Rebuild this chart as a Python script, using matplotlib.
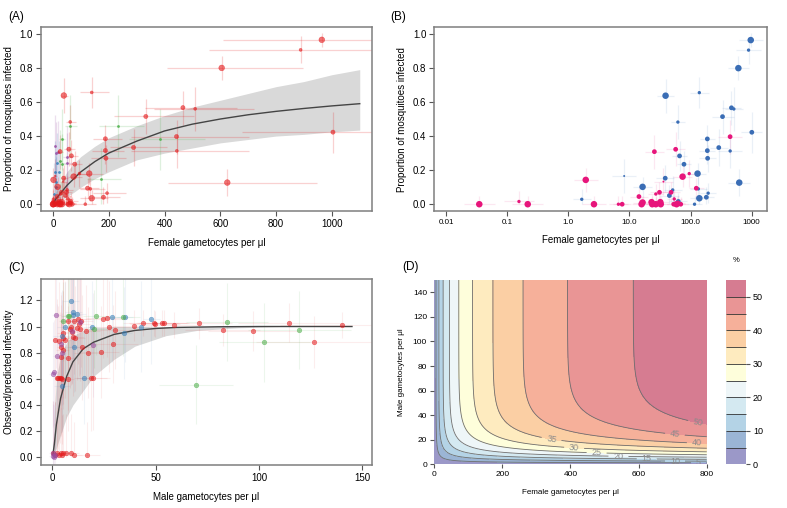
import numpy as np
import matplotlib.pyplot as plt

plt.rcParams["font.family"] = ["Liberation Sans", "DejaVu Sans"]

# ---------------- panels A and B: feeding experiments ----------------
# group 1 (blue in B)
blue_F = [964, 888, 605, 625, 1004, 466, 510, 333, 444, 289, 188, 188, 190, 139, 39,
          62, 66, 78, 130, 38.5, 16.4, 134, 51, 45, 139, 181, 194, 116, 1.66, 8.2, 63]
blue_P = [0.965, 0.906, 0.80, 0.127, 0.423, 0.567, 0.56, 0.515, 0.313, 0.333, 0.384,
          0.315, 0.27, 0.656, 0.638, 0.483, 0.284, 0.235, 0.18, 0.153, 0.102, 0.09,
          0.084, 0.051, 0.035, 0.041, 0.065, 0.0, 0.029, 0.166, 0.016]
blue_size = [4, 2, 4, 4, 3, 3, 2, 3, 2, 3, 3, 3, 3, 2, 4, 2, 3, 3, 4, 3, 4, 2, 2, 3, 4,
             3, 2, 2, 2, 1, 3]
blue_xdex = [0.2, 0.2, 0.17, 0.18, 0.17, 0.15, 0.15, 0.18, 0.2, 0.15, 0.12, 0.13, 0.14,
             0.16, 0.14, 0.12, 0.13, 0.12, 0.14, 0.15, 0.15, 0.14, 0.15, 0.15, 0.15,
             0.12, 0.13, 0.12, 0.15, 0.2, 0.15]
blue_yerr = [0.04, 0.08, 0.07, 0.08, 0.12, 0.1, 0.13, 0.1, 0.1, 0.11, 0.08, 0.08, 0.08,
             0.09, 0.1, 0.1, 0.09, 0.08, 0.06, 0.08, 0.06, 0.07, 0.08, 0.06, 0.05, 0.06,
             0.06, 0.05, 0.06, 0.1, 0.05]

# group 2 (pink in B)
pink_F = [443, 1.93, 0.156, 0.217, 0.035, 2.63, 6.6, 7.6, 25.6, 57, 74, 95, 36, 31, 27,
          48, 14.3, 124, 54, 15.8, 16.4, 23, 23.6, 27, 32, 32.5, 53, 59, 69, 62]
pink_P = [0.397, 0.143, 0.016, 0.0, 0.0, 0.0, 0.0, 0.0, 0.309, 0.323, 0.162, 0.18, 0.133,
          0.07, 0.06, 0.07, 0.045, 0.094, 0.031, 0.0, 0.01, 0.012, 0.0, 0.0, 0.012, 0.0,
          0.0, 0.0, 0.0, 0.008]
pink_size = [3, 4, 2, 4, 4, 4, 2, 3, 3, 3, 4, 2, 1, 3, 2, 3, 3, 3, 2, 4, 4, 4, 4, 4, 4,
             4, 3, 4, 3, 3]
pink_xdex = [0.2, 0.2, 0.25, 0.25, 0.25, 0.2, 0.15, 0.15, 0.15, 0.15, 0.15, 0.12, 0.15,
             0.15, 0.12, 0.15, 0.15, 0.12, 0.12, 0.15, 0.15, 0.12, 0.12, 0.15, 0.15, 0.12,
             0.12, 0.15, 0.12, 0.12]
pink_yerr = [0.1, 0.07, 0.06, 0.05, 0.05, 0.05, 0.05, 0.05, 0.1, 0.1, 0.06, 0.08, 0.08,
             0.06, 0.06, 0.06, 0.05, 0.06, 0.05, 0.04, 0.04, 0.04, 0.04, 0.04, 0.04, 0.04,
             0.04, 0.04, 0.04, 0.04]

# extra studies shown only in A
greenA_F = [31, 61, 232, 385, 172, 33, 24]
greenA_P = [0.38, 0.46, 0.46, 0.38, 0.147, 0.235, 0.254]
purpleA_F = [8, 19, 51, 51, 12]
purpleA_P = [0.343, 0.307, 0.28, 0.24, 0.30]
bluA_F = [15, 7, 21, 9.5, 12, 5]
bluA_P = [0.24, 0.19, 0.19, 0.133, 0.10, 0.06]

# fitted curve and 95% band (A)
fitA_F = [0, 10, 25, 50, 75, 100, 150, 200, 300, 400, 500, 600, 700, 800, 900, 1000, 1100]
fitA_P = [0, 0.03, 0.06, 0.11, 0.15, 0.19, 0.25, 0.30, 0.37, 0.43, 0.47, 0.50, 0.525,
          0.545, 0.562, 0.577, 0.59]
fitA_lo = [0, 0.005, 0.02, 0.045, 0.07, 0.10, 0.15, 0.19, 0.26, 0.30, 0.33, 0.36, 0.38,
           0.40, 0.41, 0.425, 0.435]
fitA_hi = [0, 0.07, 0.12, 0.19, 0.24, 0.28, 0.34, 0.39, 0.46, 0.52, 0.57, 0.61, 0.65,
           0.69, 0.72, 0.76, 0.79]

# ---------------- panel C: observed / predicted vs male gametocytes ----------------
red_M = [1.3, 3.4, 4.2, 5.3, 6.1, 7.4, 7.7, 2.4, 3.0, 3.6, 4.2, 4.8, 4.0, 5.0, 5.3, 7.7,
         8.5, 8.9, 9.4, 10.5, 10.2, 11, 12.1, 12.6, 12.9, 13.4, 13.9, 16.3, 14.2, 17.4,
         19.8, 18.5, 23.4, 24.7, 26.3, 27.4, 29.5, 30.3, 39.5, 44, 49, 49.7, 53.2, 54,
         58.7, 70.8, 82.4, 97.3, 114.7, 126.8, 140, 0.5, 1.5, 2.5, 3.2, 4.0, 4.6, 5.3,
         6.5, 9.0, 10.5, 17.0]
red_R = [0.897, 0.89, 0.84, 0.91, 0.90, 0.76, 0.60, 0.61, 0.61, 0.61, 0.61, 0.60, 0.767,
         0.82, 0.95, 1.04, 0.98, 1.0, 0.96, 1.04, 0.917, 0.91, 0.99, 1.06, 1.02, 0.98,
         1.04, 0.965, 0.84, 0.80, 0.606, 0.604, 0.805, 1.06, 1.067, 1.0, 0.866, 0.973,
         1.006, 1.03, 1.03, 1.02, 1.027, 1.027, 1.01, 1.024, 0.973, 0.966, 1.03, 0.879,
         1.014, 0.03, 0.02, 0.03, 0.02, 0.03, 0.02, 0.03, 0.03, 0.03, 0.02, 0.02]
red_xerr = [1, 2, 2, 3, 3, 3, 3, 1, 2, 2, 2, 2, 2, 3, 3, 4, 4, 4, 4, 5, 5, 5, 5, 6, 6, 6,
            6, 7, 6, 7, 8, 8, 9, 10, 10, 10, 12, 12, 10, 10, 12, 12, 12, 12, 14, 16, 18,
            22, 25, 28, 30, 1, 2, 2, 2, 2, 3, 3, 3, 4, 4, 6]
red_yerr = [0.5, 0.45, 0.4, 0.5, 0.45, 0.4, 0.4, 0.6, 0.55, 0.5, 0.45, 0.5, 0.4, 0.45,
            0.5, 0.4, 0.45, 0.45, 0.4, 0.4, 0.45, 0.4, 0.4, 0.35, 0.4, 0.4, 0.35, 0.35,
            0.4, 0.35, 0.4, 0.4, 0.35, 0.3, 0.3, 0.35, 0.3, 0.3, 0.12, 0.1, 0.1, 0.1, 0.1,
            0.1, 0.1, 0.12, 0.12, 0.15, 0.15, 0.2, 0.1, 0.4, 0.4, 0.35, 0.35, 0.35, 0.3,
            0.3, 0.3, 0.3, 0.25, 0.25]
blueC_M = [9, 10.2, 12.1, 6.1, 4.5, 10.6, 15.5, 4.8, 19, 29, 35.2, 42.7, 48, 34.8, 9.8]
blueC_R = [1.197, 1.108, 1.093, 0.994, 0.93, 0.846, 0.606, 0.545, 0.996, 1.075, 1.075,
           1.0, 1.06, 0.95, 1.09]
greenC_M = [5.3, 7.4, 8.2, 21, 20.3, 34.4, 84.5, 119.5, 102.6, 69.5]
greenC_R = [1.04, 1.08, 1.08, 1.083, 0.983, 1.075, 1.034, 0.973, 0.879, 0.555]
greenC_xerr = [2, 3, 3, 6, 6, 8, 20, 25, 22, 18]
purpleC_M = [2, 2.4, 0.5, 1.0, 4.8, 4.2, 13.4, 9.7, 19.8, 0.3, 0.8, 1.5, 0.5]
purpleC_R = [1.085, 0.775, 0.635, 0.65, 0.80, 0.863, 1.037, 0.966, 0.859, 0.01, 0.0,
             0.02, 0.03]

fitC_M = [0.3, 1, 2, 4, 7, 10, 15, 20, 30, 40, 50, 60, 80, 100, 145]
fitC_R = [0.02, 0.10, 0.25, 0.45, 0.62, 0.73, 0.83, 0.88, 0.94, 0.97, 0.985, 0.993,
          0.998, 1.0, 1.0]
bandC_M = [0.3, 1, 2, 4, 7, 10, 15, 20, 30, 40, 55, 70, 90, 110, 145]
bandC_lo = [0.0, 0.03, 0.07, 0.17, 0.31, 0.40, 0.51, 0.62, 0.75, 0.85, 0.93, 0.97, 0.99,
            1.0, 1.0]
bandC_hi = [0.02, 0.35, 0.60, 0.78, 0.88, 0.93, 0.97, 0.99, 1.0, 1.0, 1.0, 1.0, 1.0,
            1.0, 1.0]

# ---------------- panel D: model surface ----------------
D_a, D_b, D_k = 12.8, 12.0, 0.08   # % infected = a*ln(1+F/b)*(1-exp(-k*M))
D_levels = [0, 5, 10, 15, 20, 25, 30, 35, 40, 45, 50, 55]
D_colors = ["#9b98c8", "#9bb5d5", "#b4d3e6", "#d4e9f1", "#eef6f8", "#fefedb",
            "#feebbf", "#fbcfa4", "#f6b09a", "#e99595", "#d67c91"]

SIZES = {1: 1.5, 2: 4.5, 3: 9, 4: 17}
GREY = "#7f7f7f"


def style(ax, fs=7):
    for s in ax.spines.values():
        s.set_color(GREY)
        s.set_linewidth(1.1)
    ax.tick_params(direction="out", length=3.5, width=0.8, color="#555555",
                   labelsize=fs, pad=2)


def errs(F, dex):
    F = np.asarray(F, float)
    d = 10 ** np.asarray(dex, float)
    return [F - F / d, F * d - F]


def yerrs(P, e):
    P = np.asarray(P, float)
    e = np.asarray(e, float)
    return [np.minimum(P, e), e]


fig = plt.figure(figsize=(7.87, 5.08), dpi=100)

# ---- A ----
axA = fig.add_axes([0.0517, 0.5846, 0.4210, 0.3622])
axA.fill_between(fitA_F, fitA_lo, fitA_hi, color="#d9d9d9", lw=0, zorder=1)
for F, P, xd, ye in [(blue_F, blue_P, blue_xdex, blue_yerr),
                     (pink_F, pink_P, pink_xdex, pink_yerr)]:
    axA.errorbar(F, P, xerr=errs(F, xd), yerr=yerrs(P, ye), fmt="none",
                 ecolor="#e41a1c", elinewidth=0.9, alpha=0.2, zorder=2)
for F, P, c in [(greenA_F, greenA_P, "#4daf4a"), (purpleA_F, purpleA_P, "#984ea3"),
                (bluA_F, bluA_P, "#377eb8")]:
    axA.errorbar(F, P, xerr=errs(F, [0.15] * len(F)), yerr=yerrs(P, [0.18] * len(F)),
                 fmt="none", ecolor=c, elinewidth=0.9, alpha=0.18, zorder=2)
    axA.scatter(F, P, s=4, color=c, alpha=0.85, lw=0, zorder=3)
axA.plot(fitA_F, fitA_P, color="#444444", lw=1.0, zorder=4)
for F, P, sz in [(blue_F, blue_P, blue_size), (pink_F, pink_P, pink_size)]:
    axA.scatter(F, P, s=[SIZES[k] for k in sz], color="#e41a1c", alpha=0.6,
                edgecolor="#e41a1c", lw=0.4, zorder=5)
axA.set_xlim(-44, 1144)
axA.set_ylim(-0.04, 1.04)
axA.set_xticks([0, 200, 400, 600, 800, 1000])
axA.set_yticks([0, 0.2, 0.4, 0.6, 0.8, 1.0])
axA.set_yticklabels(["0.0", "0.2", "0.4", "0.6", "0.8", "1.0"])
style(axA)
axA.set_xlabel("Female gametocytes per μl", fontsize=7, labelpad=7)
axA.set_ylabel("Proportion of mosquitoes infected", fontsize=7, labelpad=4)

# ---- B ----
axB = fig.add_axes([0.5515, 0.5846, 0.4227, 0.3616])
for F, P, xd, ye, c in [(blue_F, blue_P, blue_xdex, blue_yerr, "#3a6db5"),
                        (pink_F, pink_P, pink_xdex, pink_yerr, "#e7157b")]:
    axB.errorbar(F, P, xerr=errs(F, xd), yerr=yerrs(P, ye), fmt="none", ecolor=c,
                 elinewidth=0.9, alpha=0.1, zorder=2)
for F, P, c, sz in [(blue_F, blue_P, "#3a6db5", blue_size),
                    (pink_F, pink_P, "#e7157b", pink_size)]:
    axB.scatter(F, P, s=[SIZES[k] * 1.3 for k in sz], color=c, lw=0, zorder=4)
axB.set_xscale("log")
axB.set_xlim(10 ** -2.196, 10 ** 3.245)
axB.set_ylim(-0.04, 1.04)
axB.set_xticks([0.01, 0.1, 1, 10, 100, 1000])
axB.set_xticklabels(["0.01", "0.1", "1.0", "10.0", "100.0", "1000"])
axB.minorticks_off()
axB.set_yticks([0, 0.2, 0.4, 0.6, 0.8, 1.0])
axB.set_yticklabels(["0.0", "0.2", "0.4", "0.6", "0.8", "1.0"])
style(axB)
axB.tick_params(axis="x", labelsize=5.8)
axB.set_xlabel("Female gametocytes per μl", fontsize=7, labelpad=7)
axB.set_ylabel("Proportion of mosquitoes infected", fontsize=7, labelpad=4)

# ---- C ----
axC = fig.add_axes([0.0517, 0.0846, 0.4210, 0.3656])
axC.fill_between(bandC_M, bandC_lo, bandC_hi, color="#d9d9d9", lw=0, zorder=1)
axC.errorbar(red_M, red_R, xerr=red_xerr, yerr=yerrs(red_R, red_yerr), fmt="none",
             ecolor="#e41a1c", elinewidth=0.8, alpha=0.08, zorder=2)
axC.errorbar(greenC_M, greenC_R, xerr=greenC_xerr, yerr=0.3, fmt="none",
             ecolor="#4daf4a", elinewidth=0.8, alpha=0.1, zorder=2)
axC.errorbar(blueC_M, blueC_R, xerr=4, yerr=0.35, fmt="none",
             ecolor="#377eb8", elinewidth=0.8, alpha=0.08, zorder=2)
axC.errorbar(purpleC_M, purpleC_R, xerr=2, yerr=0.4, fmt="none",
             ecolor="#984ea3", elinewidth=0.8, alpha=0.08, zorder=2)
axC.plot(fitC_M, fitC_R, color="#444444", lw=1.0, zorder=3)
for M, R, c in [(red_M, red_R, "#e41a1c"), (blueC_M, blueC_R, "#377eb8"),
                (greenC_M, greenC_R, "#4daf4a"), (purpleC_M, purpleC_R, "#984ea3")]:
    axC.scatter(M, R, s=11, color=c, alpha=0.55, edgecolor=c, lw=0.4, zorder=4)
axC.set_xlim(-5.6, 154.7)
axC.set_ylim(-0.059, 1.361)
axC.set_xticks([0, 50, 100, 150])
axC.set_yticks([0, 0.2, 0.4, 0.6, 0.8, 1.0, 1.2])
axC.set_yticklabels(["0.0", "0.2", "0.4", "0.6", "0.8", "1.0", "1.2"])
style(axC)
axC.set_xlabel("Male gametocytes per μl", fontsize=7, labelpad=7)
axC.set_ylabel("Obseved/predicted infectivity", fontsize=7, labelpad=4)

# ---- D ----
axD = fig.add_axes([0.5515, 0.0860, 0.3465, 0.3628])
Fg = np.linspace(0, 800, 401)
Mg = np.linspace(0, 150, 301)
FF, MM = np.meshgrid(Fg, Mg)
Z = D_a * np.log1p(FF / D_b) * (1 - np.exp(-D_k * MM))
cs = axD.contourf(FF, MM, Z, levels=D_levels, colors=D_colors)
cl = axD.contour(FF, MM, Z, levels=D_levels[1:-1], colors="#6e6e6e", linewidths=0.6)
lab_pos = [(774, 33.8), (707, 24.4), (771, 16.5), (345, 21), (411, 13.5), (477, 9.7),
           (541, 6.2), (624, 4.3), (707, 2.7), (776, 1.6)]
axD.clabel(cl, fmt="%d", fontsize=6.5, colors="#8a8a8a", manual=lab_pos, inline=True)
axD.set_xlim(0, 800)
axD.set_ylim(0, 150)
axD.set_xticks([0, 200, 400, 600, 800])
axD.set_yticks([0, 20, 40, 60, 80, 100, 120, 140])
for s in axD.spines.values():
    s.set_visible(False)
axD.tick_params(direction="out", length=3, width=0.8, color="#555555", labelsize=6, pad=2)
axD.set_xlabel("Female gametocytes per μl", fontsize=5.8, labelpad=8)
axD.set_ylabel("Male gametocytes per μl", fontsize=5.8, labelpad=6)

cax = fig.add_axes([0.9225, 0.0860, 0.0254, 0.3628])
cb = fig.colorbar(cs, cax=cax, ticks=[0, 10, 20, 30, 40, 50], drawedges=True)
cb.dividers.set_color("#333333")
cb.dividers.set_linewidth(0.6)
cb.outline.set_visible(False)
cax.tick_params(direction="out", length=3, width=0.8, color="#555555", labelsize=6.5, pad=2)
fig.text(0.935, 0.488, "%", fontsize=5.5, ha="center", va="center")

# panel letters
for x, y, t in [(0.021, 0.966, "(A)"), (0.506, 0.966, "(B)"),
                (0.021, 0.472, "(C)"), (0.522, 0.474, "(D)")]:
    fig.text(x, y, t, fontsize=8.5, ha="center", va="center")

fig.savefig("out.png", dpi=100)
